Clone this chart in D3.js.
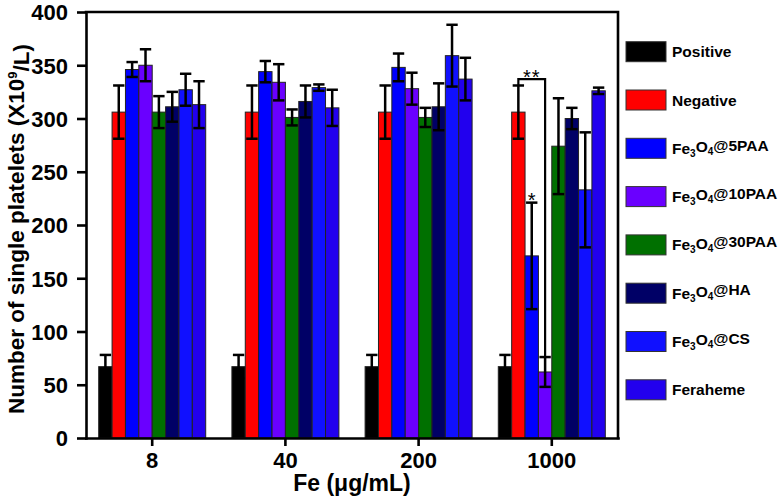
<!DOCTYPE html>
<html><head><meta charset="utf-8">
<script src="https://cdn.jsdelivr.net/npm/d3@7"></script>
<style>
body{margin:0;background:#fff}
svg{display:block}
text{font-family:"Liberation Sans",Arial,sans-serif;font-weight:bold;fill:#000}
</style>
</head><body>
<svg id="c" width="783" height="497"></svg>
<script>
// ---- data ----
const groups = ["8", "40", "200", "1000"];
const series = ["Positive", "Negative", "Fe3O4@5PAA", "Fe3O4@10PAA", "Fe3O4@30PAA", "Fe3O4@HA", "Fe3O4@CS", "Feraheme"];
const seriesColors = ["#000000", "#ff0000", "#0000ff", "#6a00ff", "#007000", "#000066", "#1010ff", "#2200ee"];
const yTicks = [0, 50, 100, 150, 200, 250, 300, 350, 400];

const positiveVals = [67, 67, 67, 67];      const positiveErr = [11, 11, 11, 11];
const negativeVals = [306, 306, 306, 306];  const negativeErr = [25, 25, 25, 25];
const paa5Vals     = [346, 344, 348, 171];  const paa5Err     = [7, 10, 13, 50];
const paa10Vals    = [350, 334, 328, 62];   const paa10Err    = [15, 17, 15, 14];
const paa30Vals    = [306, 301, 301, 274];  const paa30Err    = [15, 7.5, 9, 45];
const haVals       = [311, 316, 311, 300];  const haErr       = [14, 15, 22, 10];
const csVals       = [327, 329, 359, 233];  const csErr       = [15, 3, 29, 54];
const ferahemeVals = [313, 310, 337, 326];  const ferahemeErr = [22, 17, 20, 3];

const allVals = [positiveVals, negativeVals, paa5Vals, paa10Vals, paa30Vals, haVals, csVals, ferahemeVals];
const allErr  = [positiveErr, negativeErr, paa5Err, paa10Err, paa30Err, haErr, csErr, ferahemeErr];

// significance annotations
const bracketGroup = "1000", bracketFrom = "Negative", bracketTo = "Fe3O4@10PAA", bracketLevel = 337, bracketLabel = "**";
const starGroup = "1000", starSeries = "Fe3O4@5PAA", starLabel = "*";

// ---- layout ----
const L = 86, R = 618, T = 12, B = 438;
const svg = d3.select("#c");

const y = d3.scaleLinear().domain([0, 400]).range([B, T]);
const x0 = d3.scaleBand().domain(groups).range([L, R]).paddingInner(0.1967).paddingOuter(0.0954);
const x1 = d3.scaleBand().domain(series).range([0, x0.bandwidth()]);
const color = d3.scaleOrdinal().domain(series).range(seriesColors);

const rows = [];
groups.forEach((g, gi) => series.forEach((s, si) => rows.push({g, s, v: allVals[si][gi], e: allErr[si][gi]})));
const cx = d => x0(d.g) + x1(d.s) + x1.bandwidth() / 2;

// bars
svg.append("g").selectAll("rect").data(rows).join("rect")
  .attr("x", d => x0(d.g) + x1(d.s))
  .attr("y", d => y(d.v))
  .attr("width", x1.bandwidth())
  .attr("height", d => y(0) - y(d.v))
  .attr("fill", d => color(d.s))
  .attr("stroke", "#222").attr("stroke-width", 1);

// error bars
const capW = x1.bandwidth() * 0.85;
const eb = svg.append("g").attr("stroke", "#000").attr("stroke-width", 2.5).attr("fill", "none");
rows.forEach(d => {
  eb.append("line").attr("x1", cx(d)).attr("x2", cx(d)).attr("y1", y(d.v + d.e)).attr("y2", y(d.v - d.e));
  [d.v + d.e, d.v - d.e].forEach(v => eb.append("line")
    .attr("x1", cx(d) - capW / 2).attr("x2", cx(d) + capW / 2).attr("y1", y(v)).attr("y2", y(v)));
});

// axes
const yAxis = svg.append("g").attr("transform", `translate(${L},0)`)
  .call(d3.axisLeft(y).tickValues(yTicks).tickSize(9).tickSizeOuter(0).tickPadding(9));
yAxis.selectAll("text").style("font-size", "22px").attr("dy", "0.36em");
const xAxis = svg.append("g").attr("transform", `translate(0,${B})`)
  .call(d3.axisBottom(x0).tickSize(8).tickSizeOuter(0).tickPadding(4));
xAxis.selectAll("text").style("font-size", "22px").attr("dy", "0.84em");
[yAxis, xAxis].forEach(a => { a.selectAll("path,line").attr("stroke", "#000").attr("stroke-width", 2.6); a.select(".domain").attr("stroke-linecap", "square"); });
// frame (top and right)
svg.append("path").attr("d", `M${L},${y(400)}H${R}V${y(0)}`).attr("fill", "none").attr("stroke", "#000").attr("stroke-width", 2.6).attr("stroke-linecap", "square");

// axis titles
svg.append("text").attr("x", 352).attr("y", 491).attr("text-anchor", "middle").style("font-size", "23px").text("Fe (μg/mL)");
const yt = svg.append("text").attr("transform", `translate(24,229) rotate(-90)`).attr("text-anchor", "middle").style("font-size", "22.5px");
yt.append("tspan").text("Number of single platelets (X10");
yt.append("tspan").attr("dy", "-0.55em").style("font-size", "13px").text("9");
yt.append("tspan").attr("dy", "0.55em").text("/L)");

// significance
const bx1 = x0(bracketGroup) + x1(bracketFrom) + x1.bandwidth() / 2;
const bx2 = x0(bracketGroup) + x1(bracketTo) + x1.bandwidth() / 2;
const si1 = series.indexOf(bracketFrom), si2 = series.indexOf(bracketTo), gIdx = groups.indexOf(bracketGroup);
svg.append("path")
  .attr("d", `M${bx1},${y(allVals[si1][gIdx] + allErr[si1][gIdx])}V${y(bracketLevel)}H${bx2}V${y(allVals[si2][gIdx] + allErr[si2][gIdx])}`)
  .attr("fill", "none").attr("stroke", "#000").attr("stroke-width", 2.2);
svg.append("text").attr("x", (bx1 + bx2) / 2).attr("y", y(bracketLevel) + 5).attr("text-anchor", "middle")
  .style("font-size", "20px").style("font-weight", "normal").style("letter-spacing", "1px").text(bracketLabel);
const ssi = series.indexOf(starSeries), sg = groups.indexOf(starGroup);
svg.append("text").attr("x", x0(starGroup) + x1(starSeries) + x1.bandwidth() / 2).attr("y", y(allVals[ssi][sg] + allErr[ssi][sg]) + 4)
  .attr("text-anchor", "middle").style("font-size", "20px").style("font-weight", "normal").text(starLabel);

// legend
function addLabel(sel, label) {
  const m = label.match(/^Fe3O4(.*)$/);
  if (!m) { sel.text(label); return; }
  sel.append("tspan").text("Fe");
  sel.append("tspan").attr("dy", "0.3em").style("font-size", "10px").text("3");
  sel.append("tspan").attr("dy", "-0.3em").text("O");
  sel.append("tspan").attr("dy", "0.3em").style("font-size", "10px").text("4");
  sel.append("tspan").attr("dy", "-0.3em").text(m[1]);
}
const lg = svg.append("g");
series.forEach((s, i) => {
  const cy = 51.7 + i * 48.3;
  lg.append("rect").attr("x", 626).attr("y", cy - 10).attr("width", 40).attr("height", 20)
    .attr("fill", color(s)).attr("stroke", "#333").attr("stroke-width", 1);
  const t = lg.append("text").attr("x", 672).attr("y", cy + 5.5).style("font-size", "15.5px");
  addLabel(t, s);
});
</script>
</body></html>
